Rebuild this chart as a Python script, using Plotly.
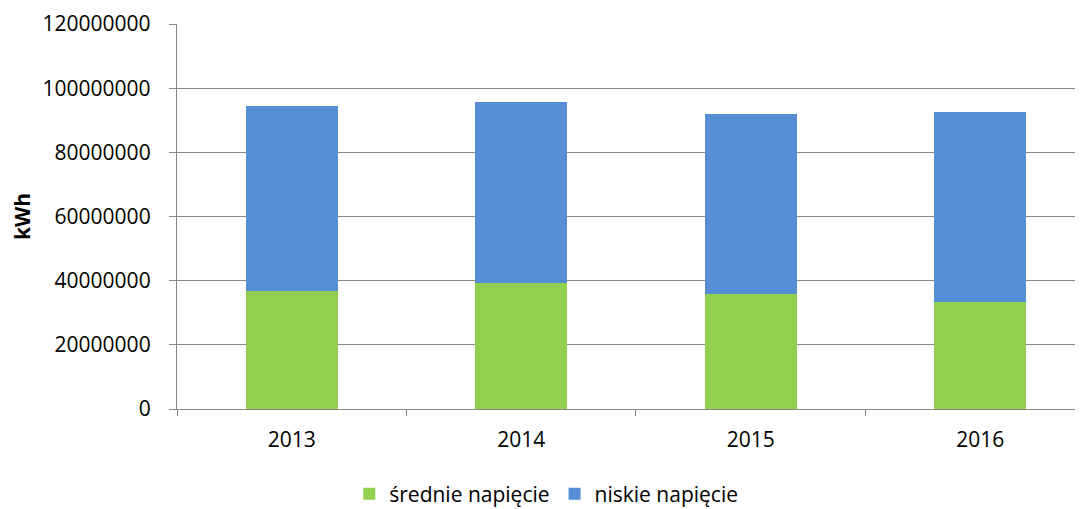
import plotly.graph_objects as go

years = ["2013", "2014", "2015", "2016"]
srednie = [36900000, 39300000, 35800000, 33500000]
niskie_total = [94500000, 95600000, 91900000, 92500000]
niskie = [t - s for t, s in zip(niskie_total, srednie)]

font_family = "Open Sans, Liberation Sans, sans-serif"

fig = go.Figure()
fig.add_trace(go.Bar(x=years, y=srednie, name="średnie napięcie",
                     marker=dict(color="#92D050", line=dict(width=0))))
fig.add_trace(go.Bar(x=years, y=niskie, name="niskie napięcie",
                     marker=dict(color="#558ED5", line=dict(width=0))))

fig.update_layout(
    barmode="stack",
    bargap=0.6,
    width=1083, height=509,
    margin=dict(l=169, r=0, t=16, b=108, pad=0, autoexpand=False),
    paper_bgcolor="white", plot_bgcolor="white",
    font=dict(family=font_family, size=21, color="black"),
    legend=dict(orientation="h", x=0.404, xanchor="center", y=-0.221, yanchor="middle",
                font=dict(size=21), traceorder="normal", itemwidth=30,
                bgcolor="rgba(0,0,0,0)"),
    xaxis=dict(range=[-0.5, 3.483], tickson="boundaries", ticks="outside", ticklen=6,
               tickcolor="#878787", tickwidth=1.3, showline=True, linecolor="#878787",
               linewidth=1.3, showgrid=False, tickfont=dict(size=21), automargin=False,
               ticklabelstandoff=12),
    yaxis=dict(range=[0, 120000000], dtick=20000000, tickformat="d",
               ticks="outside", ticklen=7, tickcolor="#878787", tickwidth=1.3,
               showline=True, linecolor="#878787", linewidth=1.3,
               showgrid=True, gridcolor="#878787", gridwidth=1.3, zeroline=False,
               title=dict(text="<b>kWh</b>", font=dict(size=21), standoff=33),
               tickfont=dict(size=21), automargin=False, ticklabelstandoff=14),
)

fig.write_html("out.html")
